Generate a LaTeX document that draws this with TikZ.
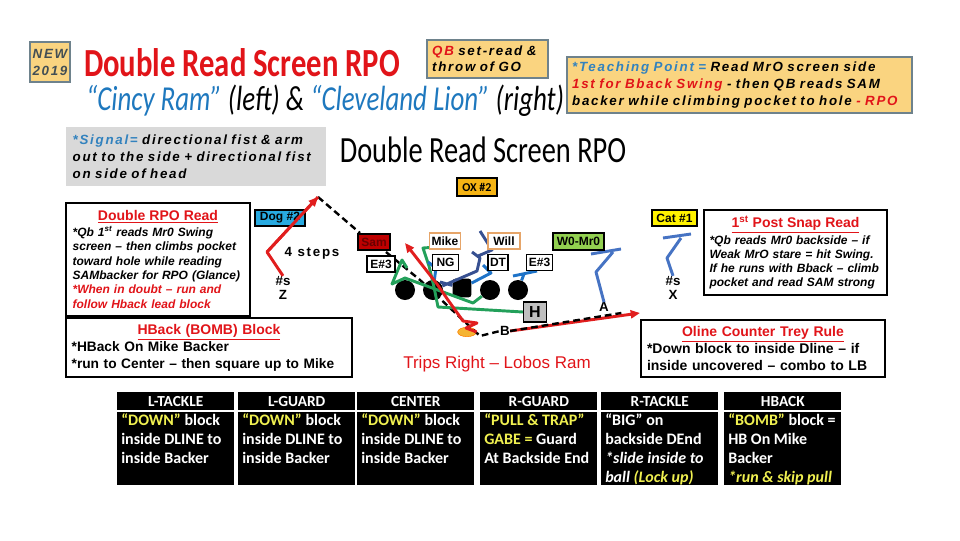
\documentclass[tikz,border=0pt]{standalone}
\usepackage{fontspec}
\setmainfont{Liberation Sans}
\newfontfamily\calibri{Carlito}
\newfontfamily\wide[LetterSpace=13]{Liberation Sans}
\usepackage{xcolor}
\usepackage{graphicx}
\usetikzlibrary{arrows.meta, positioning, shapes.geometric}

\definecolor{titlered}{RGB}{225,20,25}
\definecolor{subblue}{RGB}{30,120,190}
\definecolor{tblue}{RGB}{50,130,190}
\definecolor{boxorange}{RGB}{250,212,128}
\definecolor{boxedge}{RGB}{110,130,140}
\definecolor{sgray}{RGB}{217,217,217}
\definecolor{oxfill}{RGB}{245,180,20}
\definecolor{dogblue}{RGB}{40,170,225}
\definecolor{tan}{RGB}{230,165,105}
\definecolor{wgreen}{RGB}{146,208,80}
\definecolor{samred}{RGB}{190,0,0}
\definecolor{routered}{RGB}{225,30,30}
\definecolor{routeblue}{RGB}{70,115,195}
\definecolor{lineblue}{RGB}{30,115,200}
\definecolor{navy}{RGB}{55,80,145}
\definecolor{blockgreen}{RGB}{35,160,90}
\definecolor{qbfill}{RGB}{245,180,50}
\definecolor{hl}{RGB}{240,240,80}

\newcommand{\boxhead}[2]{\makebox[#1][c]{\rmfamily\upshape\bfseries\fontsize{10.5}{13}\selectfont\color{titlered}\underline{#2}}}
\newcommand{\tall}[1]{\scalebox{1}[1.3]{#1}}

\begin{document}
\begin{tikzpicture}[x=0.75pt, y=-0.75pt,
    orangebox/.style={draw=boxedge, fill=boxorange, line width=0.8pt, align=left, inner xsep=3.75pt, inner ysep=0pt,
      font=\wide\bfseries\itshape\fontsize{10}{12.75}\selectfont},
    notebox/.style={draw, fill=white, line width=0.8pt, align=left, inner xsep=5pt, inner ysep=0pt},
    tag/.style={draw, line width=0.8pt, inner sep=0pt, font=\bfseries\fontsize{9}{10}\selectfont},
    lineman/.style={circle, fill=black, minimum size=15pt, inner sep=0pt},
    route/.style={line width=2.2pt, line join=round},
    throw/.style={line width=1.8pt, dash pattern=on 5pt off 3pt},
    cellhead/.style={fill=black, text=white, minimum width=87.75pt, minimum height=13.5pt, inner sep=0pt,
      font=\calibri\bfseries\fontsize{11.5}{13}\selectfont},
    cellbody/.style={fill=black, minimum width=87.75pt, minimum height=54.75pt, inner sep=0pt},
    celltext/.style={text=white, align=left, inner sep=0pt, anchor=north west,
      font=\calibri\bfseries\fontsize{12}{14.25}\selectfont},
    marker/.style={font=\bfseries\fontsize{10}{11}\selectfont, align=center, inner sep=0pt}
  ]
  \useasboundingbox (0,0) rectangle (960,540);

  % Header
  \node[orangebox, align=center, minimum width=30pt, minimum height=30pt, inner xsep=0pt,
    text=boxedge!60!black] (new) at (50,62) {NEW\\2019};
  \node[font=\calibri\bfseries\fontsize{23}{26}\selectfont, text=titlered, inner sep=0pt] (title) at (242,63)
    {\tall{Double Read Screen RPO}};
  \node[font=\calibri\itshape\fontsize{20.2}{24}\selectfont, inner sep=0pt] (subtitle) at (325,101)
    {\tall{\textcolor{subblue}{“Cincy Ram”} (left) \& \textcolor{subblue}{“Cleveland Lion”} (right)}};
  \node[orangebox, minimum width=90.75pt, minimum height=28.5pt, text width=83pt, font=\wide\bfseries\itshape\fontsize{10}{12}\selectfont]
    (qb) at (487.5,59) {\textcolor{titlered}{QB} set-read \&\\throw of GO};
  \node[orangebox, minimum width=258.75pt, minimum height=42pt, text width=251pt] (teach) at (739.5,85)
    {\textcolor{tblue}{*Teaching Point =} Read MrO screen side\\
     \textcolor{titlered}{1st for Bback Swing} - then QB reads SAM\\
     backer while climbing pocket to hole \textcolor{titlered}{- RPO}};

  % Signal and play title
  \node[orangebox, draw=none, fill=sgray, minimum width=195pt, minimum height=44.25pt, text width=185pt, inner xsep=5pt]
    (signal) at (196,156.5) {\textcolor{tblue}{*Signal=} directional fist \& arm\\
     out to the side + directional fist\\on side of head};
  \node[font=\calibri\fontsize{21.3}{24}\selectfont, inner sep=0pt] (playname) at (483,150) {\tall{Double Read Screen RPO}};
  \node[tag, fill=oxfill, minimum width=30pt, minimum height=13.5pt, font=\calibri\bfseries\fontsize{9}{10}\selectfont]
    (ox) at (477,187) {OX \#2};

  % Coaching notes
  \node[notebox, minimum width=138pt, minimum height=84.75pt, text width=128pt,
    font=\bfseries\itshape\fontsize{9}{10.8}\selectfont] (rpo) at (158,259.5)
    {\boxhead{128pt}{Double RPO Read}\\[1pt]
     *Qb 1\textsuperscript{st} reads Mr0 Swing\\
     screen – then climbs pocket\\
     toward hole while reading\\
     SAMbacker for RPO (Glance)\\
     \textcolor{titlered}{*When in doubt – run and}\\
     \textcolor{titlered}{follow Hback lead block}};
  \node[notebox, minimum width=137.25pt, minimum height=63.75pt, text width=129pt, inner xsep=4pt,
    font=\bfseries\itshape\fontsize{9}{10.6}\selectfont] (post) at (795.5,252.5)
    {\boxhead{129pt}{1\textsuperscript{st} Post Snap Read}\\[1pt]
     *Qb reads Mr0 backside – if\\
     Weak MrO stare = hit Swing.\\
     If he runs with Bback – climb\\
     pocket and read SAM strong};
  \node[notebox, minimum width=214.5pt, minimum height=44.25pt, text width=206pt, inner xsep=4pt,
    font=\bfseries\fontsize{10.3}{12.75}\selectfont] (hback) at (209,347.5)
    {\boxhead{206pt}{HBack (BOMB) Block}\\
     {*}HBack On Mike Backer\\
     {*}run to Center – then square up to Mike};
  \node[notebox, minimum width=183pt, minimum height=42.75pt, text width=174pt, inner xsep=4.5pt,
    font=\bfseries\fontsize{10.5}{12.5}\selectfont] (oline) at (763,348.5)
    {\boxhead{174pt}{Oline Counter Trey Rule}\\
     {*}Down block to inside Dline – if\\
     inside uncovered – combo to LB};
  \node[text=titlered, font=\fontsize{12.75}{14}\selectfont, inner sep=0pt] (trips) at (497,364)
    {Trips Right – Lobos Ram};

  % Offense
  \node[lineman] (lt) at (405,290) {};
  \node[lineman] (lg) at (433,290) {};
  \node[lineman, rectangle, rounded corners=2pt, minimum size=14pt] (c) at (462,288) {};
  \node[lineman] (rg) at (490,290) {};
  \node[lineman] (rt) at (518,290) {};
  \node[tag, fill=black!25, minimum width=17.25pt, minimum height=15pt, font=\bfseries\fontsize{12}{13}\selectfont]
    (h) at (535,312) {H};
  \node[ellipse, draw=orange, fill=qbfill, minimum width=14pt, minimum height=7pt, inner sep=0pt] (qbe) at (467,332) {};
  \node[marker] (z) at (283,288) {\#s\\Z};
  \node[marker] (x) at (673,288) {\#s\\X};
  \node[marker] (b) at (505,331) {B};
  \node[marker] (a) at (604,307) {A};
  \node[font=\wide\bfseries\fontsize{10}{12}\selectfont, inner sep=0pt] (steps) at (312,253) {4 steps};

  % Routes
  \coordinate (zpeak) at (318,197);
  \coordinate (swing) at (640,313);
  \draw[route, routered, -{Triangle[length=7pt, width=6pt]}] (z.north) -- (267,252) -- (zpeak);
  \draw[throw] (zpeak) -- (360,233) (386,252) -- (420,280) -- (480,336) -- (b.west);
  \draw[route, routered, -{Triangle[length=7pt, width=6pt]}] (b.east) -- (swing);
  \draw[throw] (b.east) -- ([xshift=-14pt]swing);
  \draw[route, routeblue] (a.north) -- (596,272) -- (613,252) (591,254) -- (621,249);
  \draw[route, routeblue] (x.north) -- (667,258) -- (681,238) (663,238) -- (691,234);

  % Blocks
  \draw[route, blockgreen] (h.west) -- (438,307) -- (434,287) -- (429,266) -- (423,248) -- (451,246);
  \draw[route, blockgreen] (rg) -- (473,303) -- (405,278) -- (392,284) -- (402,260) -- (407,268);
  \draw[route, navy] (c) -- (440,282) (lg) -- (477,271) -- (480,258) -- (472,252) (480,231) -- (492,250) -- (478,256);
  \draw[route, lineblue] (lg) -- (436,268) -- (428,262);
  \draw[route, lineblue] (c) -- (491,273) -- (483,265);
  \draw[route, lineblue] (rt) -- (524,274) (513,276) -- (537,271);
  \draw[route, routered, -{Triangle[length=7pt, width=6pt]}] (qbe.east) -- (466,328) -- (477,323) -- (463,321)
    -- (448,300) -- (437,284) -- (405,243);

  % Defense
  \node[tag, fill=dogblue, minimum width=37.5pt, minimum height=12pt] (dog) at (280,218) {Dog \#2};
  \node[tag, fill=samred, text=samred!55!black, minimum width=24pt, minimum height=12pt] (sam) at (374,242) {Sam};
  \node[tag, fill=white, minimum width=21pt, minimum height=12pt] (el) at (381,264) {E\#3};
  \node[tag, draw=tan, fill=white, minimum width=23pt, minimum height=12pt] (mike) at (445,241) {Mike};
  \node[tag, fill=white, minimum width=19pt, minimum height=11.5pt] (ng) at (445.5,262.5) {NG};
  \node[tag, draw=tan, fill=white, minimum width=24pt, minimum height=12pt] (will) at (504,241) {Will};
  \node[tag, fill=white, minimum width=15pt, minimum height=11.5pt] (dt) at (498,262.5) {DT};
  \node[tag, fill=white, minimum width=19pt, minimum height=11.5pt] (er) at (539.5,262.5) {E\#3};
  \node[tag, fill=wgreen, minimum width=38.25pt, minimum height=12.75pt] (mr0) at (578.5,241.5) {W0-Mr0};
  \node[tag, fill=yellow, minimum width=33.75pt, minimum height=12pt] (cat) at (674.5,218) {Cat \#1};
  \draw[route, routered] (267,252) -- (zpeak);

  % Blocking table
  \foreach \x/\pos/\lbl in {117/lt/L-TACKLE, 238/lg/L-GUARD, 357/ce/CENTER, 480/rg/R-GUARD, 601/rt/R-TACKLE, 724/hb/HBACK} {
    \node[cellhead, anchor=north west] (head\pos) at (\x,392) {\lbl};
    \node[cellbody, anchor=north west] (cell\pos) at (\x,412) {};
  }
  \node[celltext] (tlt) at (121,413) {\textcolor{hl}{“DOWN”} block\\inside DLINE to\\inside Backer};
  \node[celltext] (tlg) at (242,413) {\textcolor{hl}{“DOWN”} block\\inside DLINE to\\inside Backer};
  \node[celltext] (tce) at (361,413) {\textcolor{hl}{“DOWN”} block\\inside DLINE to\\inside Backer};
  \node[celltext] (trg) at (484,413) {\textcolor{hl}{“PULL \& TRAP”}\\\textcolor{hl}{GABE =} Guard\\At Backside End};
  \node[celltext] (trt) at (605,413) {“BIG” on\\backside DEnd\\\textit{*slide inside to}\\\textit{ball \textcolor{hl}{(Lock up)}}};
  \node[celltext] (thb) at (728,413) {\textcolor{hl}{“BOMB”} block =\\HB On Mike\\Backer\\\textcolor{hl}{\textit{*run \& skip pull}}};
\end{tikzpicture}
\end{document}
